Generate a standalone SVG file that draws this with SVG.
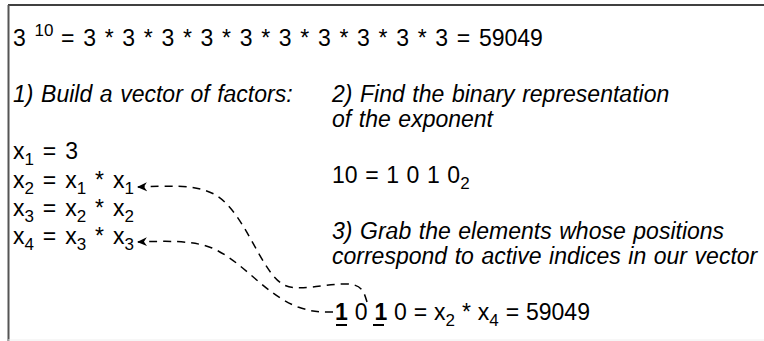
<svg xmlns="http://www.w3.org/2000/svg" width="764" height="341" viewBox="0 0 764 341">
<defs>
<style>
text{font-family:"Liberation Sans",Arial,Helvetica,sans-serif;font-size:23px;fill:#000}
.i{font-style:italic;word-spacing:1.2px}
.m{word-spacing:2.5px}
.s{font-size:17px}
.b{font-weight:bold}
.c{fill:none;stroke:#000;stroke-width:1.5;stroke-dasharray:8,6}
.u{stroke:#000;stroke-width:2}
</style>
<marker id="ah" viewBox="0 0 10 10" refX="9" refY="5" markerWidth="10" markerHeight="10" markerUnits="userSpaceOnUse" orient="auto">
<path d="M0,0.5 L10,5 L0,9.5 L3,5 Z" fill="#000"/>
</marker>
</defs>
<rect width="764" height="341" fill="#fff"/>
<g id="frame">
<line x1="8" y1="5" x2="764" y2="5" stroke="#000" stroke-width="1.5"/>
<line x1="8.5" y1="5" x2="8.5" y2="341" stroke="#555" stroke-width="2"/>
<line x1="8" y1="340" x2="764" y2="340" stroke="#eee" stroke-width="1"/>
</g>
<g id="title"><text x="13" y="46" word-spacing="2.3">3 <tspan class="s" dy="-10">10</tspan><tspan dy="10" dx="-1"> = 3 * 3 * 3 * 3 * 3 * 3 * 3 * 3 * 3 * 3 = 59049</tspan></text></g>
<g id="step1"><text class="i" x="13" y="102" word-spacing="3">1) Build a vector of factors:</text></g>
<g id="step2"><text class="i" x="332" y="102">2) Find the binary representation</text><text class="i" x="332" y="127">of the exponent</text></g>
<g id="x1"><text class="m" x="13" y="159">x<tspan class="s" dy="6">1</tspan><tspan dy="-6"> = 3</tspan></text></g>
<g id="x2"><text class="m" x="13" y="188">x<tspan class="s" dy="6">2</tspan><tspan dy="-6"> = x</tspan><tspan class="s" dy="6">1</tspan><tspan dy="-6"> * x</tspan><tspan class="s" dy="6">1</tspan></text></g>
<g id="x3"><text class="m" x="13" y="216">x<tspan class="s" dy="6">3</tspan><tspan dy="-6"> = x</tspan><tspan class="s" dy="6">2</tspan><tspan dy="-6"> * x</tspan><tspan class="s" dy="6">2</tspan></text></g>
<g id="x4"><text class="m" x="13" y="244">x<tspan class="s" dy="6">4</tspan><tspan dy="-6"> = x</tspan><tspan class="s" dy="6">3</tspan><tspan dy="-6"> * x</tspan><tspan class="s" dy="6">3</tspan></text></g>
<g id="binary"><text x="332" y="183" word-spacing="1.2">10 = 1 0 1 0<tspan class="s" dy="6">2</tspan></text></g>
<g id="step3"><text class="i" x="332" y="239">3) Grab the elements whose positions</text><text class="i" x="332" y="264">correspond to active indices in our vector</text></g>
<g id="result"><text x="335" y="320" word-spacing="0.5"><tspan class="b">1</tspan> 0 <tspan class="b">1</tspan> 0 = x<tspan class="s" dy="6">2</tspan><tspan dy="-6"> * x</tspan><tspan class="s" dy="6">4</tspan><tspan dy="-6"> = 59049</tspan></text>
<line class="u" x1="336" y1="325" x2="347" y2="325"/>
<line class="u" x1="373" y1="325" x2="384" y2="325"/></g>
<g id="connectors">
<path class="c" d="M367,302 C364,292 362,284 346,284 C322,284 300,292 284,285 C260,272 246,212 214,194 C194,184 168,186 138,187" marker-end="url(#ah)"/>
<path class="c" d="M333,312 C320,312 312,312 298,307 C264,294 244,262 212,248 C192,240 166,241 138,242" marker-end="url(#ah)"/>
</g>
</svg>
